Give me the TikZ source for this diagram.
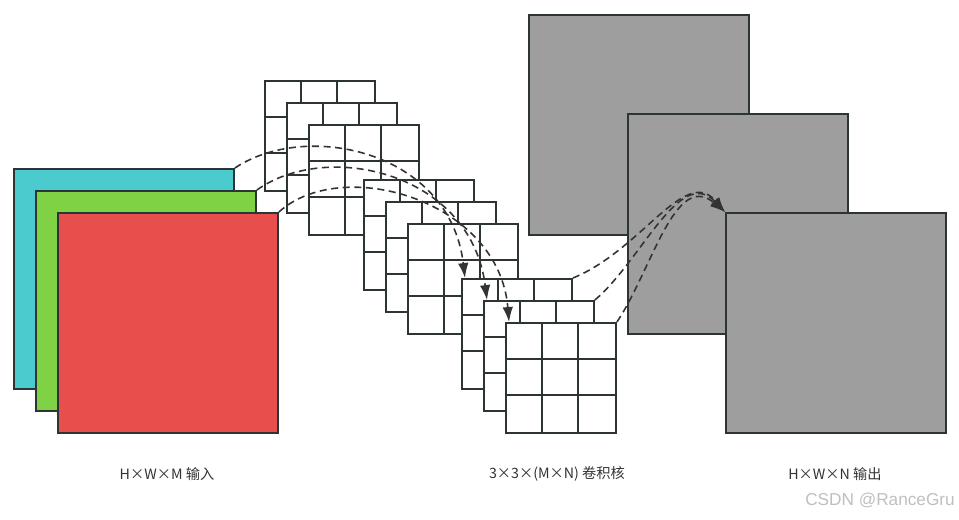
\documentclass[tikz,border=0pt]{standalone}
\usepackage{fontspec}
\setmainfont{Noto Sans CJK SC}
\newfontfamily\wmfont{Liberation Sans}
\usetikzlibrary{arrows.meta}
\definecolor{edgec}{HTML}{2D3436}
\definecolor{dashc}{HTML}{333333}
\definecolor{textc}{HTML}{333333}
\definecolor{cyanc}{HTML}{4BCBCD}
\definecolor{greenc}{HTML}{7ED244}
\definecolor{redc}{HTML}{E74F4D}
\definecolor{grayc}{HTML}{9E9E9E}
\tikzset{
  fmap/.style={draw=edgec, line width=1.1pt, minimum size=4.4cm, inner sep=0pt, anchor=north west},
  kernel/.style={draw=edgec, fill=white, line width=1.1pt, minimum size=2.2cm, inner sep=0pt, anchor=north west},
  cell/.style={draw=edgec, line width=1.1pt},
  conn/.style={->, draw=dashc, line width=.9pt, dash pattern=on 4pt off 2.6pt},
  caption/.style={text=textc, font=\fontsize{8.1}{10}\selectfont},
  wmark/.style={text=black!25, font=\wmfont\fontsize{9.8}{11}\selectfont},
}
\begin{document}
\begin{tikzpicture}[>={Latex[length=8.5pt,width=6pt]},x=0.02cm,y=-0.02cm]
    \useasboundingbox (0,0) rectangle (959,520);
    % input feature maps
    \node[fmap,fill=cyanc] (in1) at (13,168) {};
    \node[fmap,fill=greenc] (in2) at (35,190) {};
    \node[fmap,fill=redc] (in3) at (57,212) {};
    % 3x3 kernels
    \foreach \n/\x/\y in {k1/264/80,k2/286/102,k3/308/124,k4/363/179,k5/385/201,k6/407/223,k7/461/278,k8/483/300,k9/505/322}{
        \node[kernel] (\n) at (\x,\y) {};
        \foreach \i in {1,2}
            \draw[cell] (\x+\i*110/3,\y)--+(0,110) (\x,\y+\i*110/3)--+(110,0);
    }
    % output feature maps
    \node[fmap,fill=grayc] (out1) at (528,14) {};
    \node[fmap,fill=grayc] (out2) at (627,113) {};
    \node[fmap,fill=grayc] (out3) at (725,212) {};
    % connections
    \draw[conn] (in1.north east) .. controls +(72,-48) and +(-15,-127) .. ([xshift=.08cm]k7.north west);
    \draw[conn] (in2.north east) .. controls +(70,-50) and +(-16,-128) .. ([xshift=.08cm]k8.north west);
    \draw[conn] (in3.north east) .. controls +(63,-57) and +(-10,-122) .. ([xshift=.08cm]k9.north west);
    \draw[conn] (k7.north east) .. controls +(69,-28) and +(-40,-47) .. (out3.north west);
    \draw[conn] (k8.north east) .. controls +(47,-40) and +(-45,-47) .. (out3.north west);
    \draw[conn] (k9.north east) .. controls +(35,-52) and +(-50,-42) .. (out3.north west);
    % captions
    \node[caption] (lin) at (167,474) {H×W×M 输入};
    \node[caption] (lker) at (557,474) {3×3×(M×N) 卷积核};
    \node[caption] (lout) at (835,474) {H×W×N 输出};
    \node[wmark] (wm) at (880,500) {CSDN @RanceGru};
\end{tikzpicture}
\end{document}
